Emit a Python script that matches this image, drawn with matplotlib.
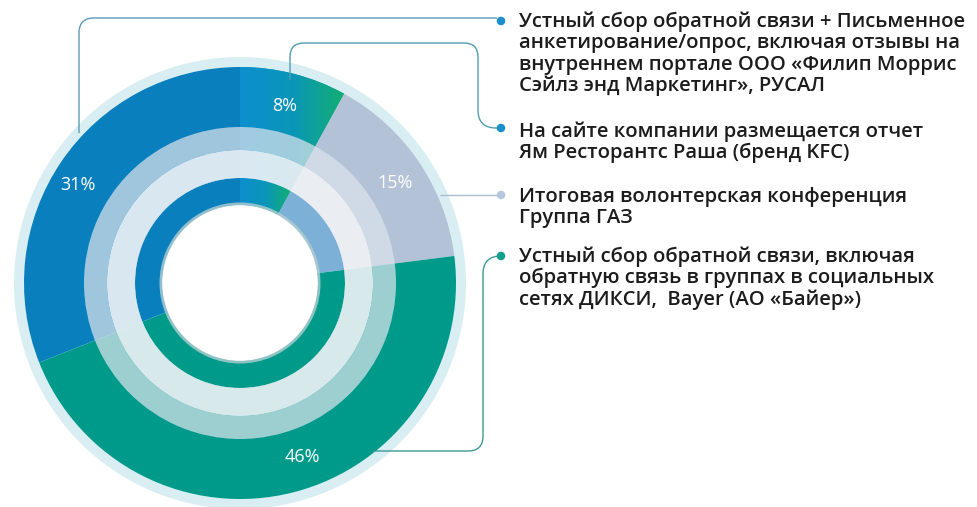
import numpy as np
import matplotlib
matplotlib.use("Agg")
import matplotlib.pyplot as plt
from matplotlib.patches import Wedge, Circle, PathPatch
from matplotlib.path import Path
from matplotlib.colors import LinearSegmentedColormap

# data
shares = [8, 15, 46, 31]
pct_labels = ["8%", "15%", "46%", "31%"]
outer_colors = ["#1192c8", "#b4c2d8", "#009a8b", "#0a7fbd"]
inner_colors = ["#1192c8", "#7cb0d6", "#009a8b", "#0a7fbd"]
legend_lines = [
    ["Устный сбор обратной связи + Письменное",
     "анкетирование/опрос, включая отзывы на",
     "внутреннем портале ООО «Филип Моррис",
     "Сэйлз энд Маркетинг», РУСАЛ"],
    ["На сайте компании размещается отчет",
     "Ям Ресторантс Раша (бренд KFC)"],
    ["Итоговая волонтерская конференция",
     "Группа ГАЗ"],
    ["Устный сбор обратной связи, включая",
     "обратную связь в группах в социальных",
     "сетях ДИКСИ,  Bayer (АО «Байер»)"],
]
dot_colors = ["#1a8fcc", "#1a8fcc", "#b8c8dc", "#14a08a"]

W, H = 977, 507
def fy(y):
    return H - y

fig = plt.figure(figsize=(9.77, 5.07), dpi=100)
ax = fig.add_axes([0, 0, 1, 1])

cx, cy = 240, fy(283)
R = 216

# halo
ax.add_patch(Wedge((cx, cy), R + 10, 0, 360, width=12, facecolor="#d9eef2", edgecolor="none"))

# outer ring
w_out, _ = ax.pie(shares, radius=R, center=(cx, cy), startangle=90, counterclock=False,
                  colors=outer_colors, wedgeprops=dict(width=R - 105, edgecolor="none"))
# inner ring
w_in, _ = ax.pie(shares, radius=105, center=(cx, cy), startangle=90, counterclock=False,
                 colors=inner_colors, wedgeprops=dict(width=27, edgecolor="none"))

# gradient on the first slice
cmap = LinearSegmentedColormap.from_list("bg", ["#0d8fce", "#0a96b8", "#12b06e"])
grad = np.linspace(0, 1, 256).reshape(1, -1)
for wd, x0, x1 in [(w_out[0], cx, cx + 106), (w_in[0], cx, cx + 52)]:
    im = ax.imshow(grad, cmap=cmap, extent=[x0, x1, cy, cy + R + 5], aspect="auto", zorder=2)
    im.set_clip_path(wd)

# translucent bands
ax.add_patch(Wedge((cx, cy), 156, 0, 360, width=23, facecolor="#dbe3ec", alpha=0.72,
                   edgecolor="none", zorder=3))
ax.add_patch(Wedge((cx, cy), 133, 0, 360, width=28, facecolor="#f1f3f6", alpha=0.9,
                   edgecolor="none", zorder=3))
ax.add_patch(Wedge((cx, cy), 80.5, 0, 360, width=3, facecolor="#b3ced2", alpha=0.8,
                   edgecolor="none", zorder=3))
ax.add_patch(Circle((cx, cy), 77.5, facecolor="white", edgecolor="none", zorder=3))

# percent labels
label_pos = [(285, 106), (395, 183), (302, 457), (78, 185)]
for (x, y), t in zip(label_pos, pct_labels):
    ax.text(x, fy(y), t, color="white", fontsize=13, ha="center", va="center",
            family="Open Sans", zorder=5)

def rounded(pts, r):
    pts = [np.array([x, fy(y)], dtype=float) for x, y in pts]
    verts = [pts[0]]
    codes = [Path.MOVETO]
    for i in range(1, len(pts) - 1):
        p0, p1, p2 = pts[i - 1], pts[i], pts[i + 1]
        d1 = (p0 - p1) / np.linalg.norm(p0 - p1)
        d2 = (p2 - p1) / np.linalg.norm(p2 - p1)
        rr = r[i - 1] if isinstance(r, list) else r
        verts += [p1 + d1 * rr, p1, p1 + d2 * rr]
        codes += [Path.LINETO, Path.CURVE3, Path.CURVE3]
    verts.append(pts[-1])
    codes.append(Path.LINETO)
    return Path(verts, codes)

connectors = [
    ([(79, 133), (79, 18), (497, 18)], 15, "#5b9bb9"),
    ([(290, 80), (290, 43), (478, 43), (478, 128), (497, 128)], [14, 14, 18], "#4f9db3"),
    ([(440, 195), (497, 195)], 0, "#aabccd"),
    ([(373, 451), (483, 451), (483, 256), (497, 256)], [15, 18], "#3d9a96"),
]
for pts, r, c in connectors:
    ax.add_patch(PathPatch(rounded(pts, r), facecolor="none", edgecolor=c, lw=1.0, zorder=4))

# legend text
dot_y = [21, 128, 195, 256]
base_y = [27, 137, 202, 262]
for k, lines in enumerate(legend_lines):
    ax.scatter([501], [fy(dot_y[k])], s=38, color=dot_colors[k], zorder=6, edgecolors="none")
    for j, line in enumerate(lines):
        ax.text(519, fy(base_y[k] + 21.3 * j), line, fontsize=14.6, color="#1c1c1c",
                family="Open Sans", weight="semibold", ha="left", va="baseline")

ax.set_xlim(0, W)
ax.set_ylim(0, H)
ax.set_aspect("equal")
ax.axis("off")
fig.savefig("out.png", dpi=100)
